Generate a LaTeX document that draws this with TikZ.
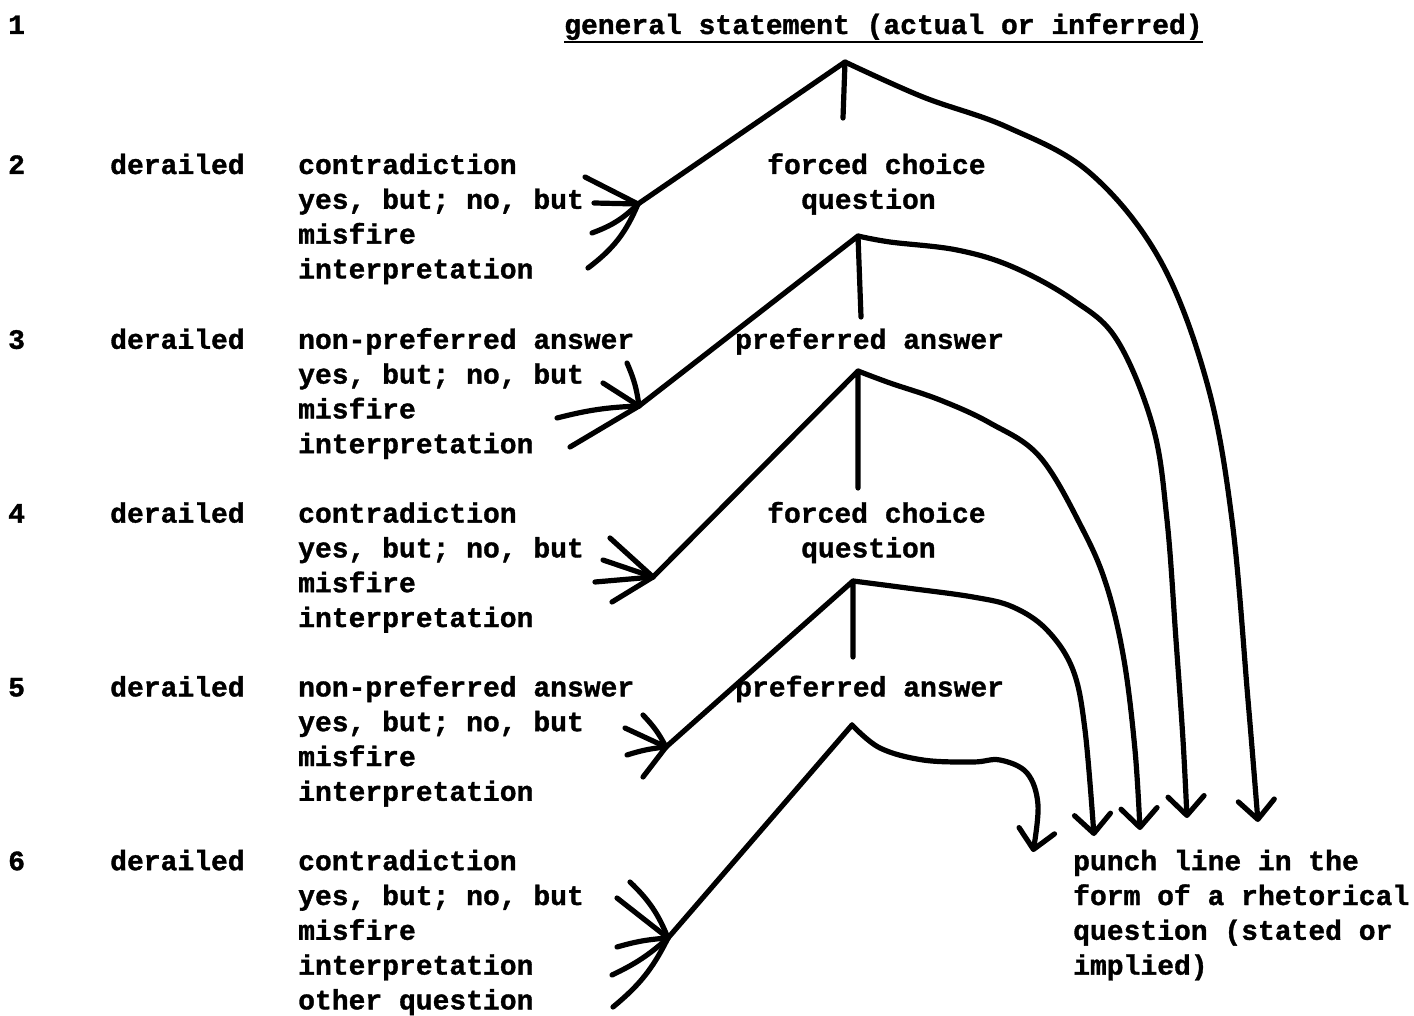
\documentclass[tikz,border=0pt]{standalone}
\usepackage{fontspec}
\setmonofont{Liberation Mono}[BoldFeatures={FakeBold=1.2}]
\usetikzlibrary{arrows.meta}
\begin{document}
\begin{tikzpicture}[x=1pt,y=-1pt,
  txt/.style={anchor=base west,inner sep=0pt,font=\ttfamily\bfseries\fontsize{28}{34}\selectfont},
  pen/.style={line width=5.2pt,line cap=round,line join=round},
  arr/.style={pen,-{Straight Barb[length=19pt,width=36pt,round]}},
  curve/.style={smooth,tension=0.6}
]
\useasboundingbox (0,0) rectangle (1414,1016);

% ---------- texts ----------
\node[txt] (n1) at (8,34) {1};
\node[txt] (gs) at (564,34) {general statement (actual or inferred)};
\draw[line width=2pt] ([yshift=-8pt]gs.base west) -- ([yshift=-8pt]gs.base east);

% row 2
\node[txt] (n2) at (8,174) {2};
\node[txt] (d2) at (110,174) {derailed};
\node[txt] (o2a) at (298,174) {contradiction};
\node[txt] (o2b) at (298,208.8) {yes, but; no, but};
\node[txt] (o2c) at (298,243.6) {misfire};
\node[txt] (o2d) at (298,278.4) {interpretation};
\node[txt] (c2a) at (767,174) {forced choice};
\node[txt] (c2b) at (801,208.8) {question};

% row 3
\node[txt] (n3) at (8,348.8) {3};
\node[txt] (d3) at (110,348.8) {derailed};
\node[txt] (o3a) at (298,348.8) {non-preferred answer};
\node[txt] (o3b) at (298,383.6) {yes, but; no, but};
\node[txt] (o3c) at (298,418.4) {misfire};
\node[txt] (o3d) at (298,453.2) {interpretation};
\node[txt] (c3) at (735,348.8) {preferred answer};

% row 4
\node[txt] (n4) at (8,522.6) {4};
\node[txt] (d4) at (110,522.6) {derailed};
\node[txt] (o4a) at (298,522.6) {contradiction};
\node[txt] (o4b) at (298,557.4) {yes, but; no, but};
\node[txt] (o4c) at (298,592.2) {misfire};
\node[txt] (o4d) at (298,627) {interpretation};
\node[txt] (c4a) at (767,522.6) {forced choice};
\node[txt] (c4b) at (801,557.4) {question};

% row 5
\node[txt] (n5) at (8,696.4) {5};
\node[txt] (d5) at (110,696.4) {derailed};
\node[txt] (o5a) at (298,696.4) {non-preferred answer};
\node[txt] (o5b) at (298,731.2) {yes, but; no, but};
\node[txt] (o5c) at (298,766) {misfire};
\node[txt] (o5d) at (298,800.8) {interpretation};
\node[txt] (c5) at (735,696.4) {preferred answer};

% row 6
\node[txt] (n6) at (8,870.2) {6};
\node[txt] (d6) at (110,870.2) {derailed};
\node[txt] (o6a) at (298,870.2) {contradiction};
\node[txt] (o6b) at (298,905) {yes, but; no, but};
\node[txt] (o6c) at (298,939.8) {misfire};
\node[txt] (o6d) at (298,974.6) {interpretation};
\node[txt] (o6e) at (298,1009.4) {other question};
\node[txt] (p1) at (1073,870.2) {punch line in the};
\node[txt] (p2) at (1073,905) {form of a rhetorical};
\node[txt] (p3) at (1073,939.8) {question (stated or};
\node[txt] (p4) at (1073,974.6) {implied)};

% ---------- coordinates ----------
\coordinate (A1) at (845,62);  \coordinate (S1) at (843,118);
\coordinate (A2) at (858,236); \coordinate (S2) at (861,317);
\coordinate (A3) at (858,371); \coordinate (S3) at (858,488);
\coordinate (A4) at (853,581); \coordinate (S4) at (853,657);
\coordinate (A5) at (852,725);

\coordinate (C2) at (638,204);
\coordinate (C3) at (639,406);
\coordinate (C4) at (653,577);
\coordinate (C5) at (666,747);
\coordinate (C6) at (668,938);

\coordinate (T1) at (1258,822);
\coordinate (T2) at (1187,818);
\coordinate (T3) at (1140,830);
\coordinate (T4) at (1094,836);
\coordinate (T5) at (1033,852);

\coordinate (f2a) at (585,177); \coordinate (f2b) at (594,203);
\coordinate (f2c) at (592,233); \coordinate (f2d) at (588,268);
\coordinate (f3a) at (627,363); \coordinate (f3b) at (603,383);
\coordinate (f3c) at (557,418); \coordinate (f3d) at (570,447);
\coordinate (f4a) at (610,538); \coordinate (f4b) at (603,560);
\coordinate (f4c) at (595,582); \coordinate (f4d) at (612,602);
\coordinate (f5a) at (643,715); \coordinate (f5b) at (625,728);
\coordinate (f5c) at (627,755); \coordinate (f5d) at (643,777);
\coordinate (f6a) at (630,882); \coordinate (f6b) at (617,898);
\coordinate (f6c) at (617,947); \coordinate (f6d) at (612,975);
\coordinate (f6e) at (613,1007);

% ---------- forks ----------
\draw[pen] (C2) -- (A1) -- (S1);
\draw[pen] (C3) -- (A2) -- (S2);
\draw[pen] (C4) -- (A3) -- (S3);
\draw[pen] (C5) -- (A4) -- (S4);
\draw[pen] (C6) -- (A5);

% ---------- right curves to the punch line ----------
\draw[arr] plot[curve] coordinates {(A1) (923,97) (1007,127) (1090,173) (1160,260) (1207,383) (1232,520) (1248,700) (T1)};
\draw[arr] plot[curve] coordinates {(A2) (890,242) (957,250) (1013,267) (1073,300) (1117,340) (1153,427) (1167,520) (1176,640) (1183,740) (T2)};
\draw[arr] plot[curve] coordinates {(A3) (890,383) (940,400) (990,423) (1040,457) (1083,530) (1107,587) (1124,660) (1135,750) (T3)};
\draw[arr] plot[curve] coordinates {(A4) (907,588) (973,597) (1013,607) (1047,630) (1073,670) (1085,730) (T4)};
\draw[arr] plot[curve] coordinates {(A5) (880,748) (923,760) (973,762) (1000,760) (1027,773) (1038,805) (T5)};

% ---------- fans ----------
\draw[pen] (f2a) -- (C2);
\draw[pen] (f2b) -- (C2);
\draw[pen] (f2c) to[bend right=12] (C2);
\draw[pen] (f2d) to[bend right=15] (C2);

\draw[pen] (f3a) to[bend left=8] (C3);
\draw[pen] (f3b) -- (C3);
\draw[pen] (f3c) to[bend left=6] (C3);
\draw[pen] (f3d) -- (C3);

\draw[pen] (f4a) -- (C4);
\draw[pen] (f4b) -- (C4);
\draw[pen] (f4c) -- (C4);
\draw[pen] (f4d) -- (C4);

\draw[pen] (f5a) to[bend left=8] (C5);
\draw[pen] (f5b) -- (C5);
\draw[pen] (f5c) to[bend left=6] (C5);
\draw[pen] (f5d) -- (C5);

\draw[pen] (f6a) to[bend left=12] (C6);
\draw[pen] (f6b) -- (C6);
\draw[pen] (f6c) to[bend left=6] (C6);
\draw[pen] (f6d) to[bend right=8] (C6);
\draw[pen] (f6e) to[bend right=12] (C6);
\end{tikzpicture}
\end{document}
